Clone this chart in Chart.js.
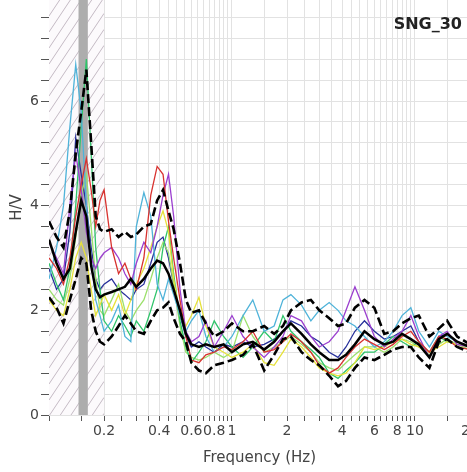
<!DOCTYPE html>
<html>
<head>
<meta charset="utf-8">
<script src="https://cdn.jsdelivr.net/npm/chart.js@4/dist/chart.umd.min.js"></script>
<style>
  html, body { margin: 0; padding: 0; background: #fff; overflow: hidden; }
  #wrap { position: absolute; left: 0; top: 0; width: 480px; height: 472px; }
</style>
</head>
<body>
<div id="wrap"><canvas id="hvChart" width="480" height="472"></canvas></div>
<script>
// frequencies (Hz) shared by every curve
const freq = [0.10, 0.11, 0.12, 0.13, 0.14, 0.15, 0.16, 0.17, 0.18, 0.19,
  0.20, 0.22, 0.24, 0.26, 0.28, 0.30, 0.33, 0.36, 0.39, 0.42,
  0.45, 0.48, 0.52, 0.56, 0.60, 0.66, 0.72, 0.80, 0.90, 1.0,
  1.15, 1.3, 1.5, 1.7, 1.9, 2.1, 2.4, 2.7, 3.0, 3.4,
  3.8, 4.2, 4.7, 5.3, 6.0, 6.8, 7.6, 8.5, 9.5, 10.5,
  12, 13.5, 15, 17, 20];

// average H/V and +/- std curves
const hvMean = [3.35, 2.9, 2.6, 2.8, 3.5, 4.1, 3.8, 2.85, 2.4, 2.25,
  2.3, 2.35, 2.4, 2.45, 2.6, 2.45, 2.6, 2.8, 2.95, 2.9,
  2.7, 2.4, 2.0, 1.55, 1.35, 1.3, 1.35, 1.3, 1.35, 1.2,
  1.35, 1.4, 1.25, 1.4, 1.6, 1.75, 1.55, 1.35, 1.2, 1.05,
  1.05, 1.15, 1.35, 1.6, 1.45, 1.35, 1.4, 1.55, 1.45, 1.35,
  1.1, 1.45, 1.55, 1.4, 1.3];
const hvUpper = [3.7, 3.4, 3.2, 3.9, 5.0, 5.8, 6.6, 5.2, 3.8, 3.55,
  3.5, 3.55, 3.4, 3.5, 3.4, 3.45, 3.6, 3.65, 4.1, 4.3,
  3.9, 3.55, 2.9, 2.2, 1.95, 2.0, 1.75, 1.5, 1.6, 1.75,
  1.6, 1.6, 1.7, 1.55, 1.7, 2.0, 2.15, 2.2, 2.0, 1.85,
  1.7, 1.75, 2.05, 2.2, 2.05, 1.55, 1.6, 1.75, 1.85, 1.9,
  1.5, 1.65, 1.8, 1.5, 1.35];
const hvLower = [2.25, 2.05, 1.75, 2.2, 2.6, 3.0, 2.9, 2.0, 1.6, 1.4,
  1.35, 1.5, 1.7, 1.9, 1.75, 1.6, 1.55, 1.8, 2.0, 2.05,
  2.15, 1.85, 1.55, 1.4, 1.0, 0.85, 0.8, 0.95, 1.0, 1.05,
  1.15, 1.35, 0.85, 1.15, 1.45, 1.5, 1.2, 1.05, 0.95, 0.75,
  0.55, 0.65, 0.9, 1.1, 1.05, 1.15, 1.25, 1.3, 1.3, 1.1,
  0.9, 1.4, 1.45, 1.3, 1.2];

// single time windows
const winRed = [3.0, 2.8, 2.5, 3.0, 3.8, 4.4, 4.9, 4.3, 3.6, 4.1,
  4.3, 3.2, 2.7, 2.9, 2.6, 2.4, 3.0, 4.2, 4.75, 4.6,
  3.7, 3.0, 2.2, 1.5, 1.05, 1.0, 1.15, 1.2, 1.3, 1.25,
  1.4, 1.6, 1.2, 1.25, 1.4, 1.55, 1.4, 1.2, 0.95, 0.8,
  0.9, 1.1, 1.3, 1.45, 1.35, 1.25, 1.35, 1.5, 1.6, 1.4,
  1.2, 1.5, 1.45, 1.3, 1.25];
const winPurple = [3.3, 3.0, 2.7, 4.0, 5.0, 4.3, 3.5, 3.0, 2.8, 3.0,
  3.1, 3.2, 3.0, 2.7, 2.5, 2.9, 3.3, 3.1, 3.6, 4.2,
  4.6, 3.8, 2.4, 1.6, 1.4, 1.5, 1.8, 1.3, 1.6, 1.9,
  1.5, 1.3, 1.1, 1.3, 1.5, 1.9, 1.8, 1.5, 1.3, 1.4,
  1.6, 2.0, 2.45, 2.0, 1.5, 1.3, 1.45, 1.6, 1.9, 1.5,
  1.1, 1.5, 1.6, 1.35, 1.3];
const winCyan = [2.6, 3.2, 4.0, 5.5, 6.7, 5.8, 4.0, 3.0, 2.2, 1.9,
  1.6, 1.8, 2.1, 1.5, 1.4, 3.6, 4.25, 3.8, 2.5, 2.2,
  2.6, 2.3, 1.9, 1.6, 1.8, 2.0, 1.5, 1.2, 1.3, 1.5,
  1.9, 2.2, 1.6, 1.7, 2.2, 2.3, 2.1, 1.8, 2.0, 2.15,
  2.0, 1.8, 1.7, 1.5, 1.3, 1.4, 1.6, 1.9, 2.05, 1.6,
  1.3, 1.6, 1.5, 1.4, 1.3];
const winYellow = [2.2, 2.0, 1.9, 2.4, 3.0, 3.3, 3.0, 2.4, 1.9, 2.1,
  2.3, 2.0, 2.3, 1.9, 2.2, 2.5, 2.8, 3.2, 3.6, 3.9,
  3.5, 2.6, 1.9, 1.7, 1.9, 2.25, 1.7, 1.3, 1.2, 1.1,
  1.2, 1.35, 1.0, 0.95, 1.2, 1.45, 1.3, 1.1, 0.9, 0.8,
  0.75, 0.8, 1.0, 1.3, 1.25, 1.3, 1.4, 1.45, 1.35, 1.3,
  1.2, 1.3, 1.4, 1.35, 1.3];
const winGreen = [2.9, 2.5, 2.2, 2.8, 4.0, 5.5, 6.8, 5.0, 3.2, 2.4,
  1.8, 1.6, 1.9, 1.7, 1.5, 1.8, 1.6, 2.0, 2.4, 3.2,
  3.6, 2.7, 1.8, 1.3, 1.0, 1.2, 1.4, 1.8, 1.5, 1.3,
  1.1, 1.3, 1.6, 1.4, 1.9, 1.6, 1.4, 1.25, 1.1, 0.8,
  0.7, 0.85, 1.0, 1.2, 1.2, 1.35, 1.5, 1.4, 1.3, 1.4,
  1.2, 1.5, 1.4, 1.35, 1.3];
const winLime = [2.4, 2.2, 2.1, 2.6, 3.4, 4.2, 4.6, 3.6, 2.6, 2.0,
  1.9, 2.2, 2.5, 2.0, 1.8, 2.0, 2.2, 2.6, 3.0, 3.3,
  3.1, 2.5, 1.7, 1.2, 1.1, 1.05, 1.1, 1.2, 1.1, 1.2,
  1.9, 1.5, 1.2, 1.3, 1.4, 1.5, 1.35, 1.2, 1.0, 0.9,
  0.85, 1.0, 1.15, 1.3, 1.3, 1.2, 1.3, 1.45, 1.4, 1.3,
  1.15, 1.35, 1.45, 1.35, 1.25];
const winNavy = [2.8, 2.4, 2.6, 3.5, 5.3, 4.6, 4.0, 3.2, 2.6, 2.4,
  2.5, 2.6, 2.4, 2.3, 2.2, 2.4, 2.5, 2.9, 3.3, 3.4,
  3.0, 2.5, 1.9, 1.5, 1.3, 1.4, 1.3, 1.2, 1.35, 1.3,
  1.4, 1.3, 1.35, 1.45, 1.6, 1.8, 1.7, 1.5, 1.4, 1.2,
  1.1, 1.3, 1.6, 1.8, 1.6, 1.45, 1.5, 1.6, 1.7, 1.4,
  1.1, 1.5, 1.55, 1.4, 1.3];

// axes
const xTickValues = [0.1, 0.15, 0.2, 0.25, 0.3, 0.35, 0.4, 0.45, 0.5, 0.55, 0.6, 0.65, 0.7, 0.75,
  0.8, 0.85, 0.9, 0.95, 1, 1.5, 2, 2.5, 3, 3.5, 4, 4.5, 5, 5.5, 6, 6.5, 7, 7.5, 8, 8.5, 9, 9.5,
  10, 15, 20];
const xTickLabels = [0.2, 0.4, 0.6, 0.8, 1, 2, 4, 6, 8, 10, 20];
const yTickValues = [0, 0.4, 0.8, 1.2, 1.6, 2, 2.4, 2.8, 3.2, 3.6, 4, 4.4, 4.8, 5.2, 5.6, 6, 6.4, 6.8, 7.2, 7.6];
const yTickLabels = [0, 2, 4, 6];

// hatched range below the valid frequency limit and the peak band
const lowLimitRange = [0.1, 0.2];
const peakBand = [0.145, 0.163];
const stationName = 'SNG_30';

function toPoints(values) {
  return freq.map((f, i) => ({ x: f, y: values[i] }));
}

const zonesPlugin = {
  id: 'zones',
  beforeDatasetsDraw(chart) {
    const { ctx, chartArea } = chart;
    const xs = chart.scales.x;
    const x0 = xs.getPixelForValue(lowLimitRange[0]);
    const x1 = xs.getPixelForValue(lowLimitRange[1]);
    const top = chartArea.top, bottom = chartArea.bottom;
    ctx.save();
    ctx.beginPath();
    ctx.rect(x0, top, x1 - x0, bottom - top);
    ctx.clip();
    ctx.fillStyle = '#fcfafc';
    ctx.fillRect(x0, top, x1 - x0, bottom - top);
    ctx.strokeStyle = '#c4bac4';
    ctx.lineWidth = 1;
    const w = x1 - x0;
    for (let y = top; y < bottom + w * 1.5; y += 16) {
      ctx.beginPath();
      ctx.moveTo(x0, y);
      ctx.lineTo(x1, y - w * 1.5);
      ctx.stroke();
    }
    ctx.restore();

    const b0 = xs.getPixelForValue(peakBand[0]);
    const b1 = xs.getPixelForValue(peakBand[1]);
    ctx.save();
    ctx.fillStyle = '#adadad';
    ctx.fillRect(b0, top, b1 - b0, bottom - top);
    ctx.restore();
  },
  afterDraw(chart) {
    const { ctx, chartArea } = chart;
    ctx.save();
    ctx.font = 'bold 16px "DejaVu Sans"';
    ctx.fillStyle = '#222';
    ctx.textAlign = 'right';
    ctx.textBaseline = 'middle';
    ctx.fillText(stationName, chartArea.right - 8, 25);
    ctx.restore();
  }
};

const thin = (label, color, values) => ({
  label: label,
  data: toPoints(values),
  borderColor: color,
  borderWidth: 1.3,
  pointRadius: 0,
  fill: false
});

const ctx = document.getElementById('hvChart').getContext('2d');
const hvChart = new Chart(ctx, {
  type: 'line',
  data: {
    datasets: [
      { label: 'Average', data: toPoints(hvMean), borderColor: '#000', borderWidth: 2.5, pointRadius: 0, fill: false },
      { label: 'Average+std', data: toPoints(hvUpper), borderColor: '#000', borderWidth: 2.6, borderDash: [9, 4], pointRadius: 0, fill: false },
      { label: 'Average-std', data: toPoints(hvLower), borderColor: '#000', borderWidth: 2.6, borderDash: [9, 4], pointRadius: 0, fill: false },
      thin('W1', '#d8322f', winRed),
      thin('W2', '#9b3fcf', winPurple),
      thin('W3', '#4fb3d9', winCyan),
      thin('W4', '#e6e23a', winYellow),
      thin('W5', '#2fc46a', winGreen),
      thin('W6', '#9be06b', winLime),
      thin('W7', '#27309a', winNavy)
    ]
  },
  options: {
    responsive: false,
    animation: false,
    devicePixelRatio: 1,
    layout: { padding: { left: 0, top: 0, right: 10, bottom: 0 } },
    plugins: {
      legend: { display: false },
      tooltip: { enabled: false }
    },
    scales: {
      x: {
        type: 'logarithmic',
        min: 0.1,
        max: 20,
        border: { display: false },
        grid: { color: '#e2e2e2', tickColor: '#555', tickLength: 6 },
        afterBuildTicks: (scale) => { scale.ticks = xTickValues.map(v => ({ value: v })); },
        afterFit: (scale) => { scale.height = 57; scale.paddingLeft = 0; scale.paddingRight = 0; },
        ticks: {
          autoSkip: false,
          maxRotation: 0,
          minRotation: 0,
          padding: 2,
          color: '#444',
          font: { family: 'DejaVu Sans', size: 14 },
          callback: (value) => xTickLabels.includes(value) ? String(value) : ''
        },
        title: {
          display: true,
          text: 'Frequency (Hz)',
          color: '#444',
          font: { family: 'DejaVu Sans', size: 15 },
          padding: { top: 0, bottom: 5 }
        }
      },
      y: {
        min: 0,
        max: 7.93,
        border: { display: false },
        grid: { color: '#e2e2e2', tickColor: '#555', tickLength: 8 },
        afterBuildTicks: (scale) => { scale.ticks = yTickValues.map(v => ({ value: v })); },
        afterFit: (scale) => { scale.width = 49; scale.paddingTop = 0; scale.paddingBottom = 0; },
        ticks: {
          padding: 2,
          color: '#444',
          font: { family: 'DejaVu Sans', size: 14 },
          callback: (value) => yTickLabels.includes(value) ? String(value) : ''
        },
        title: {
          display: true,
          text: 'H/V',
          color: '#444',
          font: { family: 'DejaVu Sans', size: 15 },
          padding: { top: 8, bottom: 0 }
        }
      }
    }
  },
  plugins: [zonesPlugin]
});
</script>
</body>
</html>
